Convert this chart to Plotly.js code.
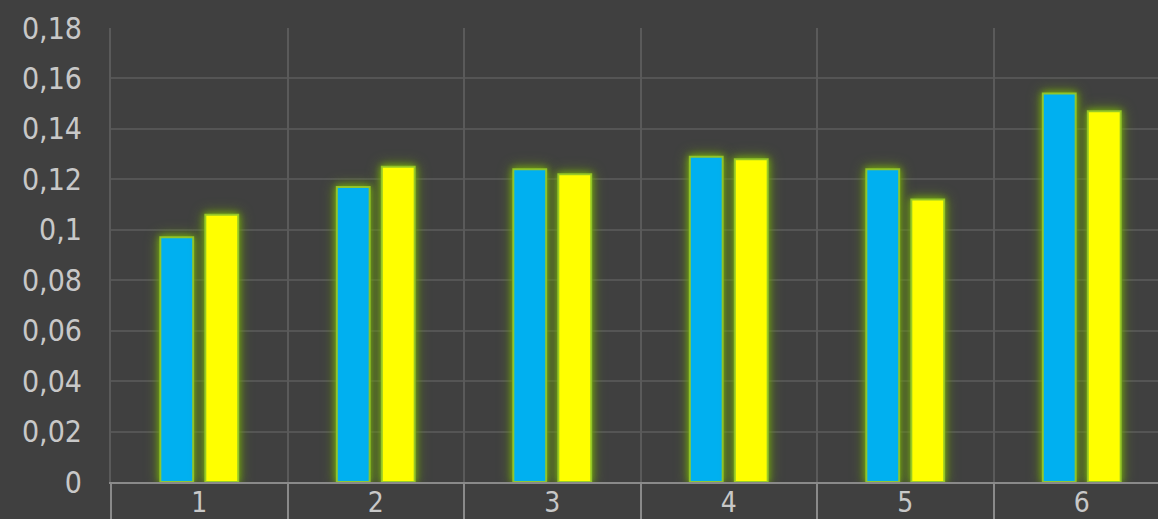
<!DOCTYPE html>
<html>
<head>
<meta charset="utf-8">
<script src="https://cdn.plot.ly/plotly-3.0.1.min.js"></script>
<style>
html, body { margin:0; padding:0; background:#404040; overflow:hidden; }
#chart { width:1158px; height:519px; }
.barlayer .point path { filter: drop-shadow(0 0 3px rgba(115,165,15,0.95)) drop-shadow(0 0 6px rgba(105,150,15,0.85)); }
</style>
</head>
<body>
<div id="chart"></div>
<script>
const categories = [1, 2, 3, 4, 5, 6];
const categoryLabels = ['1', '2', '3', '4', '5', '6'];
const seriesBlue = [0.097, 0.117, 0.124, 0.129, 0.124, 0.154];
const seriesYellow = [0.106, 0.125, 0.122, 0.128, 0.112, 0.147];
const yTickVals = [0, 0.02, 0.04, 0.06, 0.08, 0.1, 0.12, 0.14, 0.16, 0.18];
const yTickText = ['0', '0,02', '0,04', '0,06', '0,08', '0,1', '0,12', '0,14', '0,16', '0,18'];
const xBoundaries = [0.5, 1.5, 2.5, 3.5, 4.5, 5.5, 6.5];

const fontFam = '"DejaVu Sans Condensed", "DejaVu Sans", sans-serif';
const lineCol = 'rgba(150,200,40,0.95)';

const traces = [
  { type:'bar', x:categories, y:seriesBlue, marker:{color:'#00B0F0', line:{color:lineCol, width:2}}, hoverinfo:'none' },
  { type:'bar', x:categories, y:seriesYellow, marker:{color:'#FFFF00', line:{color:lineCol, width:2}}, hoverinfo:'none' },
  { type:'scatter', x:[1], y:[0], xaxis:'x2', mode:'markers', marker:{opacity:0}, hoverinfo:'none', showlegend:false }
];

const xr = [0.5, 6.432];
const layout = {
  width:1158, height:519,
  paper_bgcolor:'#404040', plot_bgcolor:'#404040',
  margin:{l:111, r:0, t:28, b:37},
  showlegend:false,
  barmode:'group', bargap:0.49, bargroupgap:0.27,
  separators:',.',
  font:{family:fontFam, color:'#C8C8C8', size:30},
  xaxis:{
    range:xr, tickvals:categories, ticktext:categoryLabels,
    showgrid:false, zeroline:false, ticks:'', showline:true, linecolor:'#8A8A8A', linewidth:2,
    tickfont:{family:fontFam, size:28, color:'#C8C8C8'}, ticklabelstandoff:-6
  },
  xaxis2:{
    overlaying:'x', range:xr, tickvals:xBoundaries, showticklabels:false,
    showgrid:true, gridcolor:'#5A5A5A', gridwidth:2, zeroline:false,
    ticks:'outside', ticklen:40, tickwidth:2, tickcolor:'#8A8A8A', side:'bottom'
  },
  yaxis:{
    range:[0, 0.18], tickvals:yTickVals, ticktext:yTickText,
    showgrid:true, gridcolor:'#555555', gridwidth:2, zeroline:false,
    ticks:'', showline:true, linecolor:'#5A5A5A', linewidth:2,
    tickfont:{family:fontFam, size:30, color:'#C8C8C8'}, ticklabelstandoff:21
  }
};

Plotly.newPlot('chart', traces, layout, {displayModeBar:false, staticPlot:true});
</script>
</body>
</html>
